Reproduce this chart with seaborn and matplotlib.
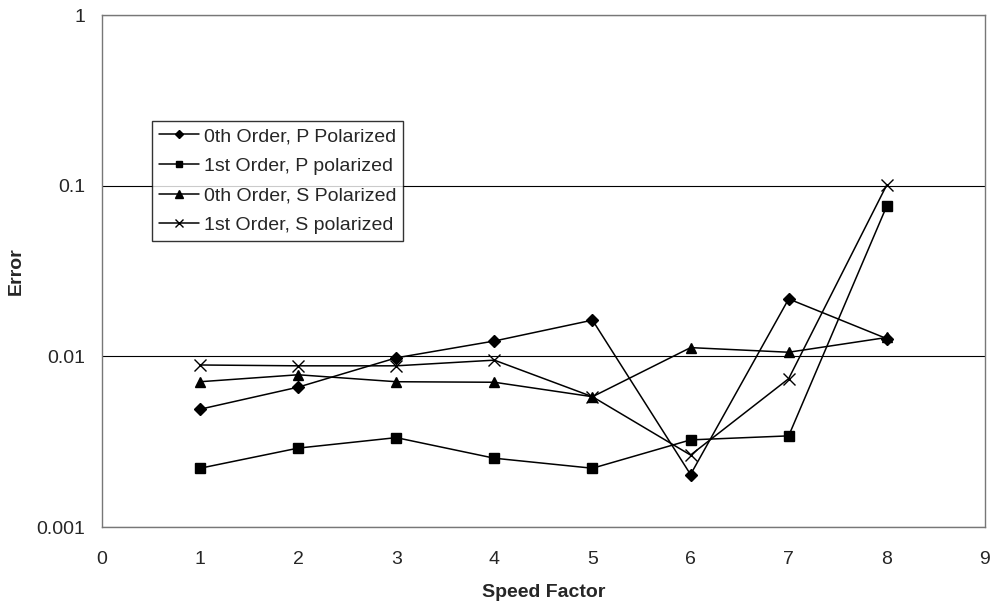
import pandas as pd
import numpy as np
from matplotlib import pyplot as plt
import seaborn as sns

# speed factor on the x axis
speed = [1, 2, 3, 4, 5, 6, 7, 8]

# error values, one list per series
p0_err = [0.0049, 0.0066, 0.0098, 0.0123, 0.0163, 0.00203, 0.0217, 0.0127]
p1_err = [0.00221, 0.0029, 0.00334, 0.00253, 0.00221, 0.00324, 0.00342, 0.076]
s0_err = [0.0071, 0.0078, 0.0071, 0.00705, 0.0058, 0.01125, 0.01057, 0.0129]
s1_err = [0.0089, 0.0088, 0.0088, 0.0095, 0.0058, 0.00264, 0.0074, 0.101]

labels = ['0th Order, P Polarized', '1st Order, P polarized',
          '0th Order, S Polarized', '1st Order, S polarized']
markers = ['D', 's', '^', 'x']
sizes = [6, 7, 7.5, 8]
legend_sizes = [4, 5, 5.5, 6]

sns.set_style('white')
plt.rcParams['font.family'] = ['Liberation Sans', 'DejaVu Sans']

fig = plt.figure(figsize=(9.92, 6.08), dpi=100)
ax = fig.add_axes([0.1028, 0.1332, 0.8900, 0.8421])

for vals, lab, mk, ms in zip([p0_err, p1_err, s0_err, s1_err], labels, markers, sizes):
    df = pd.DataFrame({'Speed Factor': speed, 'Error': vals})
    sns.lineplot(data=df, x='Speed Factor', y='Error', ax=ax, color='black',
                 linewidth=1.1, marker=mk, markersize=ms, markeredgecolor='black',
                 markerfacecolor='black', markeredgewidth=1.0, label=lab)

ax.set_yscale('log')
ax.set_ylim(0.001, 1)
ax.set_xlim(0, 9)
ax.set_xticks(range(0, 10))
ax.set_yticks([0.001, 0.01, 0.1, 1])
ax.set_yticklabels(['0.001', '0.01', '0.1', '1'])
ax.minorticks_off()
ax.yaxis.grid(True, color='black', linewidth=0.8)
ax.xaxis.grid(False)

for sp in ax.spines.values():
    sp.set_color('#777777')
    sp.set_linewidth(1.0)
ax.tick_params(axis='both', direction='out', length=5, width=1, color='#777777',
               labelsize=14)
ax.tick_params(axis='y', pad=7)
ax.tick_params(axis='x', pad=12.5)

ax.set_xlabel('Speed Factor', fontsize=14, fontweight='bold', labelpad=11)
ax.set_ylabel('Error', fontsize=14, fontweight='bold')
ax.yaxis.set_label_coords(-0.087, 0.5)

leg = ax.legend(loc='upper left', bbox_to_anchor=(0.057, 0.7936), borderaxespad=0,
                fontsize=14, frameon=True, fancybox=False, handlelength=2.05,
                handletextpad=0.25, labelspacing=0.62, borderpad=0.35)
leg.get_frame().set_edgecolor('black')
leg.get_frame().set_linewidth(1.0)
for h, s in zip(leg.legend_handles, legend_sizes):
    h.set_markersize(s)

plt.savefig('out.png', dpi=100)
